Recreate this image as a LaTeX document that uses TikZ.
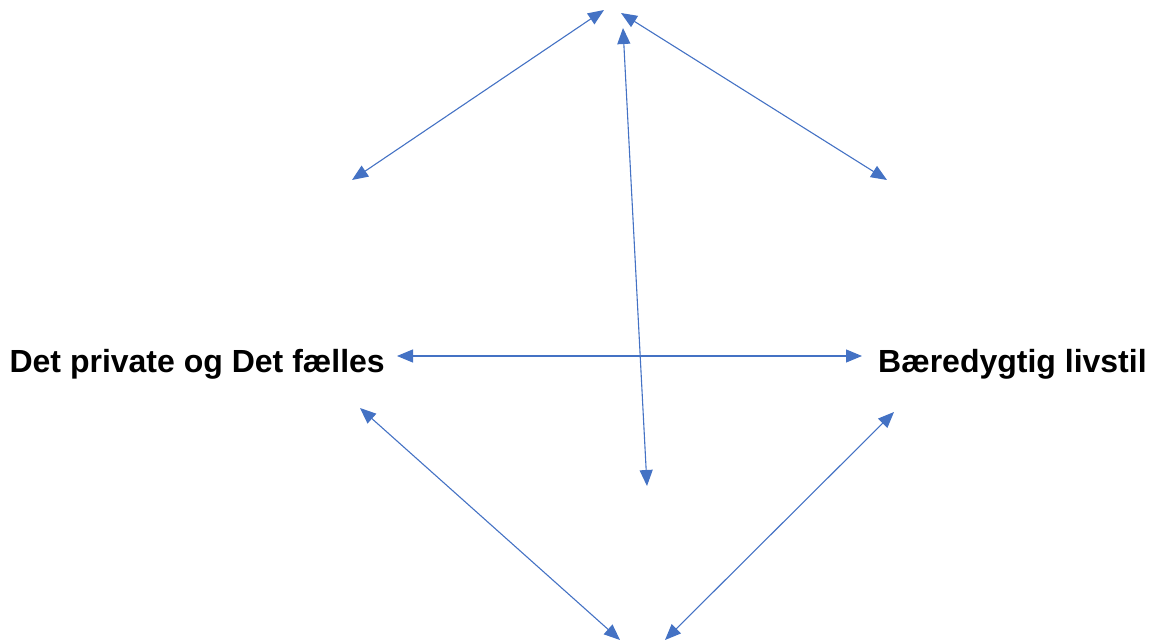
\documentclass[tikz,border=0pt]{standalone}
\usepackage{fontspec}
\setmainfont{Liberation Sans}
\usetikzlibrary{arrows.meta}
\definecolor{linkblue}{HTML}{4472C4}

\tikzset{
  link/.style={linkblue, line width=1.1pt, {Triangle[length=16pt,width=13pt]}-{Triangle[length=16pt,width=13pt]}},
  topic/.style={font=\fontsize{32}{38}\selectfont\bfseries, inner ysep=0pt, text height=32pt, text depth=0pt}
}

\begin{document}
\begin{tikzpicture}[x=1pt, y=-1pt]
    \useasboundingbox (0,0) rectangle (1154,644);
    % the two named topics
    \node[topic, inner xsep=12pt, anchor=east] (private) at (397,356) {Det private og Det fælles};
    \node[topic, inner xsep=16pt, anchor=west] (livstil) at (862,356) {Bæredygtig livstil};
    % free ends of the arrows
    \coordinate (topl) at (604,10);
    \coordinate (topr) at (621,13);
    \coordinate (topc) at (623,28);
    \coordinate (upl) at (352,180);
    \coordinate (upr) at (887,180);
    \coordinate (midc) at (647,486);
    \coordinate (lowl) at (360,408);
    \coordinate (lowr) at (894,412);
    \coordinate (botl) at (620,640);
    \coordinate (botr) at (665,640);
    % arrows
    \draw[link] (private.east) -- (livstil.west);
    \draw[link] (topl) -- (upl);
    \draw[link] (topr) -- (upr);
    \draw[link] (topc) -- (midc); % long one through the middle
    \draw[link] (lowl) -- (botl);
    \draw[link] (lowr) -- (botr);
\end{tikzpicture}
\end{document}
